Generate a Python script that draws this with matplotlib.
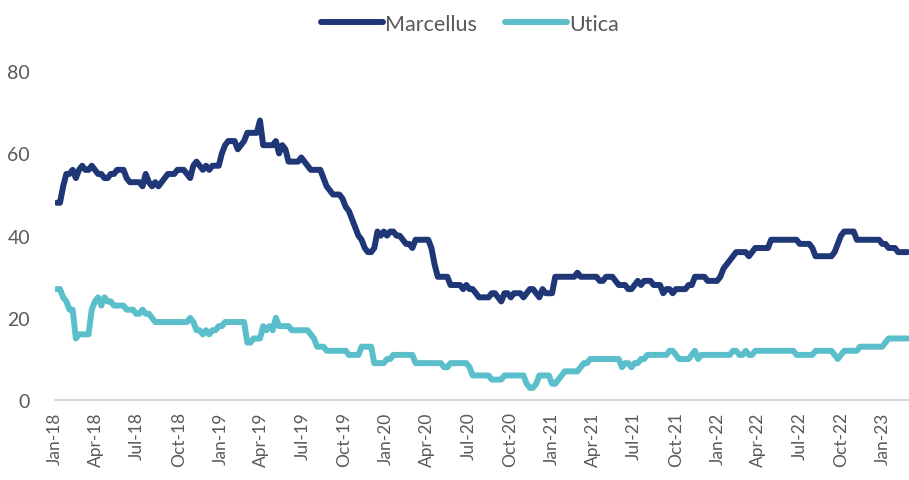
import matplotlib
matplotlib.use('Agg')
import matplotlib.pyplot as plt
import matplotlib.dates as mdates
import pandas as pd

plt.rcParams['font.family'] = ['Lato', 'DejaVu Sans']

# weekly rig counts, first week ending 2018-01-05
marcellus = [
    48, 48, 52, 55, 55, 56, 54, 56, 57, 56,
    56, 57, 56, 55, 55, 54, 54, 55, 55, 56,
    56, 56, 54, 53, 53, 53, 53, 52, 55, 53,
    52, 53, 52, 53, 54, 55, 55, 55, 56, 56,
    56, 55, 54, 57, 58, 57, 56, 57, 56, 57,
    57, 57, 60, 62, 63, 63, 63, 61, 62, 63,
    65, 65, 65, 65, 68, 62, 62, 62, 62, 63,
    60, 62, 61, 58, 58, 58, 58, 59, 58, 57,
    56, 56, 56, 56, 54, 52, 51, 50, 50, 50,
    49, 47, 46, 44, 42, 40, 39, 37, 36, 36,
    37, 41, 40, 41, 40, 41, 41, 40, 40, 39,
    38, 38, 37, 39, 39, 39, 39, 39, 37, 33,
    30, 30, 30, 30, 28, 28, 28, 28, 27, 28,
    27, 27, 26, 25, 25, 25, 25, 26, 26, 25,
    24, 26, 26, 25, 26, 26, 26, 25, 26, 27,
    27, 26, 25, 27, 26, 26, 26, 30, 30, 30,
    30, 30, 30, 30, 31, 30, 30, 30, 30, 30,
    30, 29, 29, 30, 30, 30, 29, 28, 28, 28,
    27, 27, 28, 29, 28, 29, 29, 29, 28, 28,
    28, 26, 27, 27, 26, 27, 27, 27, 27, 28,
    28, 30, 30, 30, 30, 29, 29, 29, 29, 30,
    32, 33, 34, 35, 36, 36, 36, 36, 35, 36,
    37, 37, 37, 37, 37, 39, 39, 39, 39, 39,
    39, 39, 39, 39, 38, 38, 38, 38, 37, 35,
    35, 35, 35, 35, 35, 36, 38, 40, 41, 41,
    41, 41, 39, 39, 39, 39, 39, 39, 39, 39,
    38, 38, 37, 37, 37, 36, 36, 36, 36,
]

utica = [
    27, 27, 25, 24, 22, 22, 15, 16, 16, 16,
    16, 22, 24, 25, 23, 25, 24, 24, 23, 23,
    23, 23, 22, 22, 22, 21, 21, 22, 21, 21,
    20, 19, 19, 19, 19, 19, 19, 19, 19, 19,
    19, 19, 20, 19, 17, 17, 16, 17, 16, 17,
    17, 18, 18, 19, 19, 19, 19, 19, 19, 19,
    14, 14, 15, 15, 15, 18, 17, 18, 17, 20,
    18, 18, 18, 18, 17, 17, 17, 17, 17, 17,
    16, 15, 13, 13, 13, 12, 12, 12, 12, 12,
    12, 12, 11, 11, 11, 11, 13, 13, 13, 13,
    9, 9, 9, 9, 10, 10, 11, 11, 11, 11,
    11, 11, 11, 9, 9, 9, 9, 9, 9, 9,
    9, 9, 8, 8, 9, 9, 9, 9, 9, 9,
    8, 6, 6, 6, 6, 6, 6, 5, 5, 5,
    5, 6, 6, 6, 6, 6, 6, 6, 4, 3,
    3, 4, 6, 6, 6, 6, 4, 4, 5, 6,
    7, 7, 7, 7, 7, 8, 9, 9, 10, 10,
    10, 10, 10, 10, 10, 10, 10, 10, 8, 9,
    9, 8, 9, 9, 10, 10, 11, 11, 11, 11,
    11, 11, 11, 12, 12, 11, 10, 10, 10, 10,
    11, 12, 10, 11, 11, 11, 11, 11, 11, 11,
    11, 11, 11, 12, 12, 11, 11, 12, 11, 11,
    12, 12, 12, 12, 12, 12, 12, 12, 12, 12,
    12, 12, 12, 11, 11, 11, 11, 11, 11, 12,
    12, 12, 12, 12, 12, 11, 10, 11, 12, 12,
    12, 12, 12, 13, 13, 13, 13, 13, 13, 13,
    13, 14, 15, 15, 15, 15, 15, 15, 15,
]

dates = pd.date_range('2018-01-05', periods=len(marcellus), freq='7D')

fig = plt.figure(figsize=(9.09, 4.81), dpi=100)
ax = fig.add_axes([0.0605, 0.166, 0.939, 0.684])

ax.plot(dates, marcellus, color='#1f3777', lw=4.3, label='Marcellus', solid_capstyle='round')
ax.plot(dates, utica, color='#5bbfcb', lw=4.3, label='Utica', solid_capstyle='round')

ax.set_ylim(0, 80)
ax.set_yticks(range(0, 81, 20))
ax.set_xlim(pd.Timestamp('2018-01-01'), dates[-1] + pd.Timedelta(days=2))
ax.xaxis.set_major_locator(mdates.MonthLocator(bymonth=[1, 4, 7, 10]))
ax.xaxis.set_major_formatter(mdates.DateFormatter('%b-%y'))

for s in ['top', 'right', 'left']:
    ax.spines[s].set_visible(False)
ax.spines['bottom'].set_color('#d9d9d9')
ax.spines['bottom'].set_linewidth(1.5)

ax.tick_params(axis='x', length=0, labelrotation=90, labelsize=12.5, colors='#595959', pad=8)
ax.tick_params(axis='y', length=0, labelsize=14, colors='#595959', pad=18)

fig.legend(loc='upper center', bbox_to_anchor=(0.517, 1.01), ncol=2, frameon=False,
           fontsize=15.5, handlelength=2.9, columnspacing=1.3, handletextpad=0.1,
           labelcolor='#595959')

fig.savefig('out.png', dpi=100)
